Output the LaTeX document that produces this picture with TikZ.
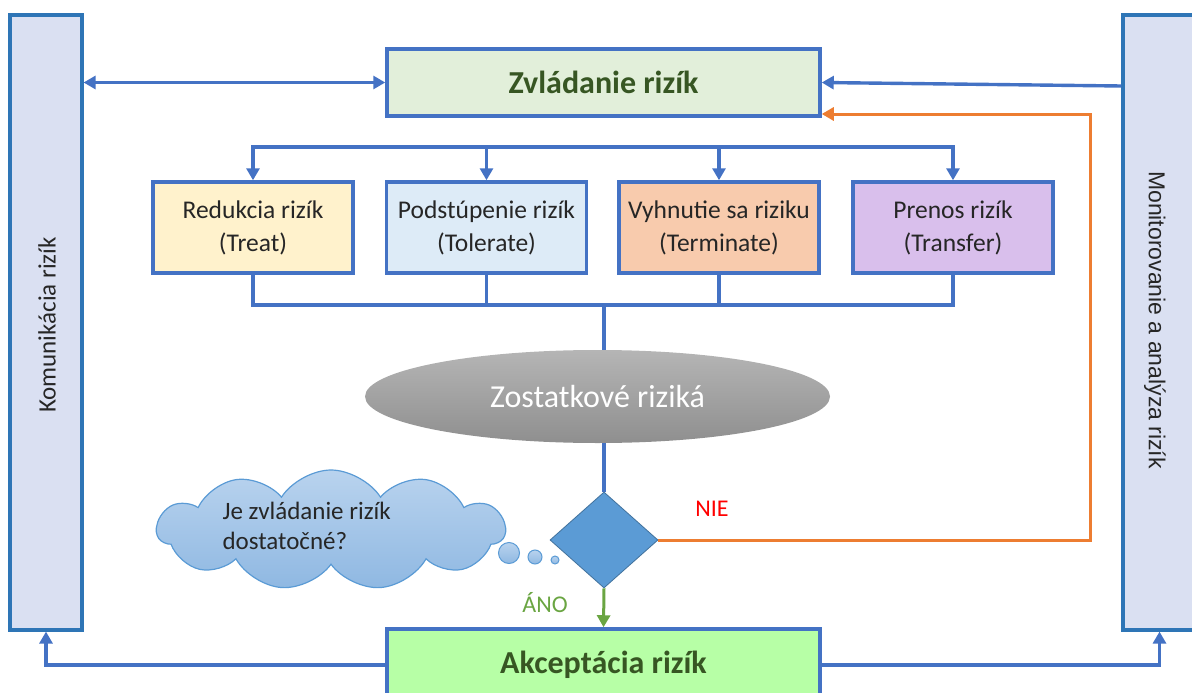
\documentclass[tikz,border=0pt]{standalone}
\usepackage{fontspec}
\setmainfont{Carlito}
\newfontfamily\arialfont{Liberation Sans}
\usetikzlibrary{arrows.meta, shapes.geometric, shapes.symbols, positioning, calc}
\definecolor{rizblue}   {RGB}{ 68, 114, 196}
\definecolor{barfill}   {RGB}{218, 224, 242}
\definecolor{barline}   {RGB}{ 46, 117, 182}
\definecolor{zvlfill}   {RGB}{226, 239, 218}
\definecolor{darkgreen} {RGB}{ 55,  86,  35}
\definecolor{treatfill} {RGB}{255, 242, 204}
\definecolor{tolfill}   {RGB}{221, 235, 247}
\definecolor{termfill}  {RGB}{248, 203, 173}
\definecolor{transfill} {RGB}{217, 191, 236}
\definecolor{akcfill}   {RGB}{183, 255, 166}
\definecolor{diafill}   {RGB}{ 91, 155, 213}
\definecolor{dialine}   {RGB}{ 65, 113, 156}
\definecolor{cloudtop}  {RGB}{185, 211, 238}
\definecolor{cloudbot}  {RGB}{143, 184, 226}
\definecolor{cloudline} {RGB}{ 91, 155, 213}
\definecolor{rizorange} {RGB}{237, 125,  49}
\definecolor{rizgreen}  {RGB}{106, 165,  66}
\definecolor{textgray}  {RGB}{ 38,  38,  38}

\begin{document}
\begin{tikzpicture}[x=1pt,y=-1pt,
	bar/.style={draw=barline, line width=3.2pt, fill=barfill, minimum width=72pt, minimum height=615pt, inner sep=0pt},
	mainbox/.style={draw=rizblue, line width=3.5pt, minimum width=433pt, inner sep=0pt, text=darkgreen,
		font=\fontsize{32}{38}\selectfont\bfseries},
	optbox/.style={draw=rizblue, line width=3.5pt, minimum width=200pt, minimum height=91pt, inner sep=0pt,
		align=center, text=textgray, font=\fontsize{25.5}{33}\selectfont},
	flow/.style={rizblue, line width=3.4pt},
	arr/.style={-{Triangle[length=12pt,width=13pt]}},
	bubble/.style={circle, draw=cloudline, line width=1pt, top color=cloudtop, bottom color=cloudbot, inner sep=0pt}
]
	\useasboundingbox (0,0) rectangle (1192,693);

	% side bars
	\node[bar] (komunikacia) at (46,322.5) {};
	\node[rotate=90, text=textgray, font=\fontsize{25}{30}\selectfont] (komtext) at (47,325) {Komunikácia rizík};
	\node[bar, minimum width=73pt] (monitorovanie) at (1159.5,322.5) {};
	\node[rotate=-90, text=textgray, font=\arialfont\fontsize{23}{28}\selectfont] (montext) at (1155,320) {Monitorovanie a analýza rizík};

	% main boxes
	\node[mainbox, fill=zvlfill, minimum height=67pt] (zvladanie) at (603.5,82.5) {Zvládanie rizík};
	\node[optbox, fill=treatfill] (redukcia) at (253,227.5) {Redukcia rizík\\(Treat)};
	\node[optbox, fill=tolfill] (podstupenie) at (486.5,227.5) {Podstúpenie rizík\\(Tolerate)};
	\node[optbox, fill=termfill] (vyhnutie) at (719,227.5) {Vyhnutie sa riziku\\(Terminate)};
	\node[optbox, fill=transfill] (prenos) at (953,227.5) {Prenos rizík\\(Transfer)};

	\node[ellipse, minimum width=465pt, minimum height=93pt, inner sep=0pt, top color=black!29, bottom color=black!44,
		text=white, font=\fontsize{32}{36}\selectfont] (zostatkove) at (597.5,396.5) {Zostatkové riziká};

	\node[diamond, draw=dialine, line width=0.8pt, fill=diafill, minimum width=108pt, minimum height=96pt, inner sep=0pt] (rozhodnutie) at (604,540) {};

	% thought cloud
	\node[cloud, cloud puffs=11, cloud puff arc=115, aspect=2.9, minimum width=348pt, minimum height=120pt,
		draw=cloudline, line width=1.2pt, top color=cloudtop, bottom color=cloudbot] (mysel) at (331,530) {};
	\node[anchor=west, align=left, text=textgray, font=\fontsize{25}{30}\selectfont] (myseltext) at (219,526) {Je zvládanie rizík\\dostatočné?};
	\node[bubble, minimum size=21pt] (bublina1) at (509,553) {};
	\node[bubble, minimum size=14pt] (bublina2) at (535,557) {};
	\node[bubble, minimum size=8pt] (bublina3) at (555,560) {};

	\node[mainbox, fill=akcfill, minimum height=72pt] (akceptacia) at (603.5,665) {Akceptácia rizík};

	\node[text=red, font=\fontsize{24}{28}\selectfont] (nie) at (712,509) {NIE};
	\node[text=rizgreen, font=\fontsize{24}{28}\selectfont] (ano) at (545,603) {ÁNO};

	% connectors
	\coordinate (vetva) at (0,147);
	\coordinate (spoj) at (0,305);
	\coordinate (otocka) at (1090,114);

	\draw[flow, {Triangle[length=12pt,width=13pt]}-{Triangle[length=12pt,width=13pt]}] (komunikacia.east |- zvladanie.west) -- (zvladanie.west);
	\draw[flow, arr] (monitorovanie.west |- 0,86) -- (zvladanie.east);
	\draw[rizorange, line width=3pt, arr] (rozhodnutie.east) -| (otocka) -- (zvladanie.east |- otocka);

	\draw[flow, arr] (podstupenie.north |- vetva) -| (redukcia.north);
	\draw[flow, arr] (vyhnutie.north |- vetva) -| (prenos.north);
	\draw[flow] (podstupenie.north |- vetva) -- (vyhnutie.north |- vetva);
	\foreach \b in {podstupenie,vyhnutie}
		\draw[flow, arr] (\b.north |- vetva) -- (\b.north);

	\draw[flow] (redukcia.south) |- (prenos.south |- spoj) -- (prenos.south);
	\foreach \b in {podstupenie,vyhnutie}
		\draw[flow] (\b.south) -- (\b.south |- spoj);
	\draw[flow] (rozhodnutie.north |- spoj) -- (rozhodnutie.north |- zostatkove.north);
	\draw[flow] (rozhodnutie.north |- zostatkove.south) -- (rozhodnutie.north);

	\draw[rizgreen, line width=3pt, arr] (rozhodnutie.south) -- (akceptacia.north);
	\draw[flow, arr] (akceptacia.west) -| (komunikacia.south);
	\draw[flow, arr] (akceptacia.east) -| (monitorovanie.south);
\end{tikzpicture}
\end{document}
